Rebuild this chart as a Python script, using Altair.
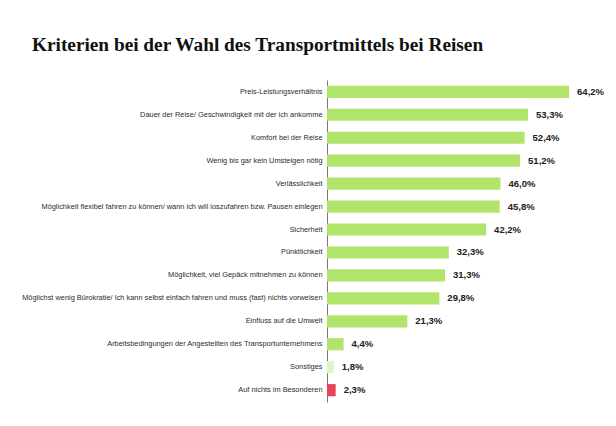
import altair as alt
import pandas as pd

categories = [
    "Preis-Leistungsverhältnis",
    "Dauer der Reise/ Geschwindigkeit mit der ich ankomme",
    "Komfort bei der Reise",
    "Wenig bis gar kein Umsteigen nötig",
    "Verlässlichkeit",
    "Möglichkeit flexibel fahren zu können/ wann ich will loszufahren bzw. Pausen einlegen",
    "Sicherheit",
    "Pünktlichkeit",
    "Möglichkeit, viel Gepäck mitnehmen zu können",
    "Möglichst wenig Bürokratie/ Ich kann selbst einfach fahren und muss (fast) nichts vorweisen",
    "Einfluss auf die Umwelt",
    "Arbeitsbedingungen der Angestellten des Transportunternehmens",
    "Sonstiges",
    "Auf nichts im Besonderen",
]
values = [64.2, 53.3, 52.4, 51.2, 46.0, 45.8, 42.2, 32.3, 31.3, 29.8, 21.3, 4.4, 1.8, 2.3]
groups = ["main"] * 12 + ["other", "none"]
group_names = ["main", "other", "none"]
group_colors = ["#b0e46a", "#def5c8", "#e84356"]

df = pd.DataFrame({
    "Kriterium": categories,
    "Wert": values,
    "Gruppe": groups,
    "Label": [f"{v:.1f}%".replace(".", ",") for v in values],
})

y_enc = alt.Y("Kriterium:N", sort=categories, title=None,
              scale=alt.Scale(paddingInner=0.47, paddingOuter=0.25),
              axis=alt.Axis(ticks=False, domainColor="#777", domainWidth=1,
                            labelFont="Liberation Sans", labelFontSize=7.4,
                            labelColor="#2a2a2a", labelPadding=5, labelLimit=400))
x_enc = alt.X("Wert:Q", scale=alt.Scale(domain=[0, 72.4], nice=False, zero=True), axis=None)

bars = alt.Chart(df).mark_bar().encode(
    y=y_enc, x=x_enc,
    color=alt.Color("Gruppe:N", scale=alt.Scale(domain=group_names, range=group_colors), legend=None),
)
text = alt.Chart(df).mark_text(align="left", dx=8, font="Liberation Sans", fontSize=9.5,
                               fontWeight="bold", color="#222").encode(
    y=alt.Y("Kriterium:N", sort=categories), x="Wert:Q", text="Label:N")

chart = (bars + text).properties(
    width=273, height=322,
    autosize=alt.AutoSizeParams(type="none"),
    padding={"left": 319, "top": 72, "right": 8, "bottom": 8},
    title=alt.TitleParams("Kriterien bei der Wahl des Transportmittels bei Reisen",
                          font="Liberation Serif", fontSize=19.3, fontWeight="bold",
                          color="#111", anchor="start", frame="group", dx=-295, offset=25),
).configure_view(stroke=None)

chart.save("out.html", embed_options={"renderer": "svg", "actions": False})
